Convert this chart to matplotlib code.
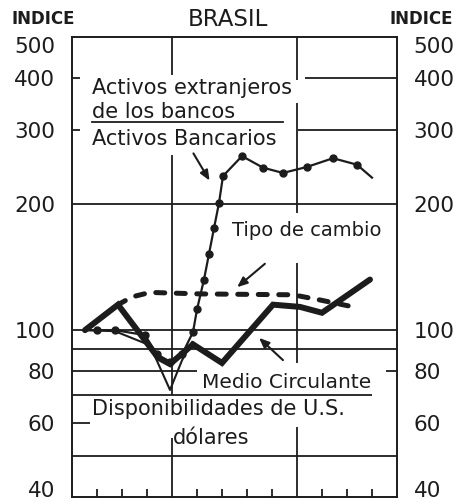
import matplotlib
matplotlib.use('Agg')
import matplotlib.pyplot as plt
from matplotlib.ticker import NullLocator

# ---- datos (eje x en trimestres, eje y indice, escala log) ----
act_x = [0.52, 1.0, 1.72, 2.92, 3.4, 3.92, 4.4, 4.84, 5.0, 5.28, 5.48, 5.68, 5.88, 6.04,
         6.8, 7.64, 8.44, 9.4, 10.44, 11.4, 12.0]
act_y = [100, 100, 100, 97.3, 87.5, 84.1, 87.5, 98.9, 112, 132, 152, 175, 201, 233,
         260, 244, 237, 245, 257, 248, 231]

cambio_x = [0.52, 1.84, 2.4, 3.12, 5.12, 8.84, 9.92, 11.44]
cambio_y = [100, 115, 120, 123, 122, 121.4, 118, 113]

medio_x = [0.52, 1.84, 3.44, 3.92, 4.84, 6.0, 8.04, 9.12, 10.0, 11.92]
medio_y = [100, 115, 86, 83, 92.5, 83.5, 115, 113.6, 110, 132]

disp_x = [0.52, 1.72, 3.12, 3.92, 4.4, 4.8]
disp_y = [100, 99.4, 92, 72, 84.7, 93.6]

yticks = [40, 60, 80, 100, 200, 300, 400, 500]
ytick_labels = ['40', '60', '80', '100', '200', '300', '400', '500']

# ---- geometria en pixeles (figura 456x503) ----
W, H = 456, 503
X0, X1, Y0, Y1 = 72, 397, 37, 497
INK = '#1c1c1c'


def fx(px):
    return (px - X0) / (X1 - X0)


def fy(py):
    return (Y1 - py) / (Y1 - Y0)


fig = plt.figure(figsize=(W / 100, H / 100), dpi=100)
ax = fig.add_axes([X0 / W, 1 - Y1 / H, (X1 - X0) / W, (Y1 - Y0) / H])
ax.set_yscale('log')
ax.set_ylim(40, 500)
ax.set_xlim(0, 13)

for s in ax.spines.values():
    s.set_linewidth(1.4)
    s.set_color(INK)

ax.set_yticks(yticks)
ax.set_yticklabels(ytick_labels)
ax.yaxis.set_minor_locator(NullLocator())
ax.tick_params(axis='y', length=0, labelsize=15.5, labelcolor=INK,
               left=False, right=False, labelleft=True, labelright=True, pad=12)
# 500 y 40 van pegados al borde, se corren hacia adentro
for tk in ax.yaxis.get_major_ticks():
    for t in (tk.label1, tk.label2):
        if t.get_text() == '500':
            t.set_va('top')
        elif t.get_text() == '40':
            t.set_va('baseline')
ax.set_xticks([1, 2, 3, 5, 6, 7, 8, 10, 11, 12])
ax.tick_params(axis='x', direction='in', length=6, width=1.3, color=INK,
               labelbottom=False, top=False)

# gridlines cortadas como en el original
hsegs = {400: [(72, 80), (305, 397)], 300: [(72, 80), (298, 397)], 200: [(72, 397)],
         100: [(72, 397)], 90: [(72, 397)], 80: [(72, 197), (386, 397)],
         70: [(72, 372)], 60: [(72, 90)], 50: [(72, 397)]}
for val, segs in hsegs.items():
    for a, b in segs:
        ax.hlines(val, fx(a), fx(b), transform=ax.get_yaxis_transform(),
                  color=INK, lw=1.3, zorder=1)
vsegs = {4: [(37, 75), (155, 395), (438, 497)],
         9: [(37, 80), (103, 213), (263, 363), (427, 497)]}
for xv, segs in vsegs.items():
    for a, b in segs:
        ax.vlines(xv, fy(b), fy(a), transform=ax.get_xaxis_transform(),
                  color=INK, lw=1.3, zorder=1)

# series
ax.plot(disp_x, disp_y, color=INK, lw=1.5, zorder=3)
ax.plot(medio_x, medio_y, color=INK, lw=4.3, solid_joinstyle='miter',
        solid_capstyle='round', zorder=4)
ax.plot(cambio_x, cambio_y, color=INK, lw=3.6, linestyle=(0, (1.8, 2.3)),
        dash_capstyle='round', zorder=4)
ax.plot(act_x, act_y, color=INK, lw=1.6, marker='o', markersize=5,
        markevery=list(range(1, len(act_x) - 1)), zorder=5)


def ftxt(px, py, s, **kw):
    kw.setdefault('color', INK)
    kw.setdefault('fontsize', 15)
    fig.text(px / W, 1 - py / H, s, **kw)


ftxt(12, 19, 'INDICE', fontsize=12, fontweight='bold', va='center')
ftxt(453, 19, 'INDICE', fontsize=12, fontweight='bold', va='center', ha='right')
ftxt(228, 19, 'BRASIL', fontsize=16.5, va='center', ha='center')

ftxt(92, 88, 'Activos extranjeros', va='center')
ftxt(92, 112, 'de los bancos', va='center')
ftxt(92, 139, 'Activos Bancarios', va='center')
fig.add_artist(plt.Line2D([92 / W, 283 / W], [1 - 122 / H, 1 - 122 / H],
                          color=INK, lw=1.3))
ftxt(232, 231, 'Tipo de cambio', va='center', fontsize=14)
ftxt(202, 383, 'Medio Circulante', va='center', fontsize=14.5)
ftxt(92, 409, 'Disponibilidades de U.S.', va='center')
ftxt(173, 438, 'dólares', va='center')

# flechas
arrows = [((192, 151), (211, 183)), ((267, 262), (235, 289)), ((285, 362), (257, 336))]
for (xa, ya), (xb, yb) in arrows:
    fig.add_artist(matplotlib.patches.FancyArrowPatch(
        (xa / W, 1 - ya / H), (xb / W, 1 - yb / H), transform=fig.transFigure,
        arrowstyle='-|>,head_length=6,head_width=2.5', color=INK, lw=1.5))

fig.savefig('out.png', dpi=100)
